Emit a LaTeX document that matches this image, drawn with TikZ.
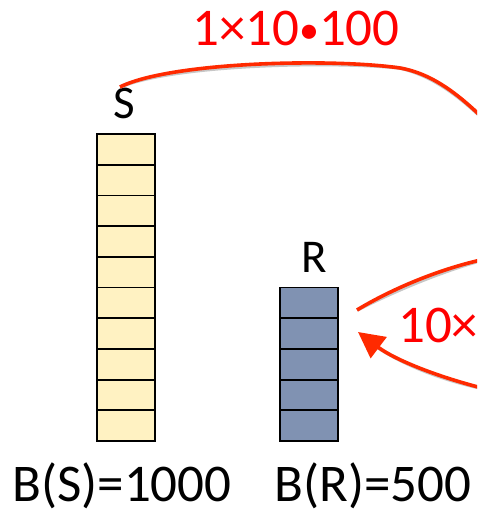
\documentclass[tikz,border=0pt]{standalone}
\usepackage{fontspec}
\setmainfont{Carlito}
\usetikzlibrary{arrows.meta}
\definecolor{redc}{HTML}{FF2A00}
\definecolor{redt}{HTML}{FF0000}
\definecolor{yel}{HTML}{FFF2C2}
\definecolor{blu}{HTML}{8092B2}
\begin{document}
\begin{tikzpicture}[x=1pt,y=-1pt,
  col/.style={draw=black, line width=1.8pt, minimum width=58pt, inner sep=0pt, outer sep=0pt, anchor=north west},
  lbl/.style={font=\fontsize{47}{47}\selectfont, inner sep=0pt, anchor=base},
  blbl/.style={font=\fontsize{53}{53}\selectfont, inner sep=0pt, anchor=base},
  rlbl/.style={font=\fontsize{53}{53}\selectfont, text=redt, inner sep=0pt, anchor=base},
  cell/.style={line width=1.8pt},
  curve/.style={draw=redc, line width=3.6pt},
  shadow/.style={draw=black!22, line width=3.6pt}]
\useasboundingbox (0,0) rectangle (477,513);
\clip (0,0) rectangle (477,513);
% columns
\node[col, fill=yel, minimum height=307pt] (Scol) at (97,134) {};
\foreach \i in {1,...,9} \draw[cell] (Scol.north west) ++(0,\i*30.7) -- ++(58,0);
\node[col, fill=blu, minimum height=153.5pt] (Rcol) at (280,287.5) {};
\foreach \i in {1,...,4} \draw[cell] (Rcol.north west) ++(0,\i*30.7) -- ++(58,0);
% labels
\node[lbl] (Sl) at (124,119) {S};
\node[lbl] (Rl) at (314,272) {R};
\node[blbl] (BS) at (122,501.5) {B(S)=1000};
\node[blbl] (BR) at (373,501.5) {B(R)=500};
\node[rlbl, anchor=base west] (top) at (192,46) {1×10{\fontsize{40}{40}\selectfont\raisebox{2pt}{•}}100};
\node[rlbl, anchor=base west] (ten) at (398,342) {10×};
% curve end points
\coordinate (a1) at (120,87);
\coordinate (a2) at (400,68);
\coordinate (a3) at (500,135);
\coordinate (b1) at (357,310);
\coordinate (b2) at (490,258);
\coordinate (c1) at (490,390);
\coordinate (c2) at (358,332);
% shadows
\begin{scope}[shift={(1.5,2.5)}]
\draw[shadow] (a1) .. controls (170,62) and (330,58) .. (a2) .. controls (440,75) and (470,105) .. (a3);
\draw[shadow] (b1) .. controls (390,290) and (440,268) .. (b2);
\draw[shadow] (c1) .. controls (440,378) and (395,360) .. (365,337);
\end{scope}
% curves
\draw[curve] (a1) .. controls (170,62) and (330,58) .. (a2) .. controls (440,75) and (470,105) .. (a3);
\draw[curve] (b1) .. controls (390,290) and (440,268) .. (b2);
\draw[curve, -{Triangle[length=26pt,width=26pt]}] (c1) .. controls (440,378) and (395,360) .. (c2);
\end{tikzpicture}
\end{document}
